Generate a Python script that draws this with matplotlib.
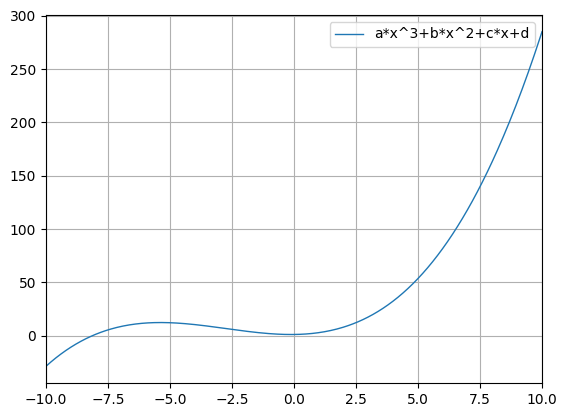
import matplotlib
matplotlib.use("Agg")
import matplotlib.pyplot as plt
import numpy as np

# fitted cubic coefficients
a = 0.1538
b = 1.27
c = 0.3
d = 1.2
x_range = (-10, 10)
label = "a*x^3+b*x^2+c*x+d"

x = np.linspace(x_range[0], x_range[1], 400)
y = a * x**3 + b * x**2 + c * x + d

fig = plt.figure(figsize=(5.67, 4.17), dpi=100)
ax = fig.add_axes([46 / 567, 1 - 383 / 417, 496 / 567, 368 / 417])
ax.plot(x, y, linewidth=1, label=label)
ax.set_xlim(*x_range)
ax.grid(True)
ax.legend(loc="upper right")
fig.savefig("out.png", dpi=100)
